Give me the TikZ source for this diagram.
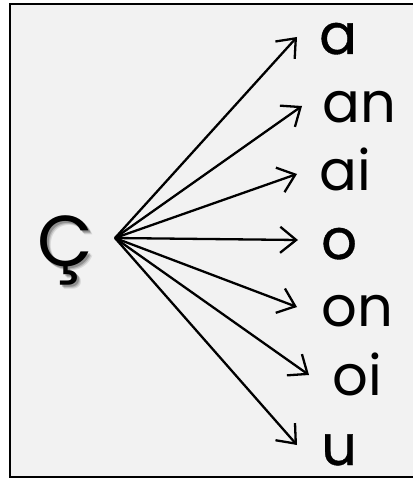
\documentclass[tikz,border=0pt]{standalone}
\usepackage{fontspec}
\setmainfont{Poppins}
\newfontfamily\semib{Poppins}[FakeBold=0.7]
\usetikzlibrary{arrows.meta}
\definecolor{bgfill}{HTML}{F2F2F2}
\tikzset{
  lbl/.style={anchor=base west, inner sep=0pt, font=\fontsize{56}{60}\selectfont},
  blbl/.style={lbl, font=\fontsize{56}{60}\selectfont\semib},
  arr/.style={line width=2.3pt, -{Straight Barb[length=16pt,width=26pt,line width=2.3pt]}},
}
\begin{document}
\begin{tikzpicture}[x=1pt,y=-1pt]
\useasboundingbox (0,0) rectangle (412,481);
\draw[line width=2.2pt, fill=bgfill] (10,4) rectangle (420,477);
% shadow of C cedilla
\foreach \d/\o in {4/0.10,3/0.15,2/0.22}{
  \node[lbl, text=black, opacity=\o, font=\fontsize{72}{76}\selectfont] at (37+\d,266+\d) {Ç};
}
\node[lbl, font=\fontsize{72}{76}\selectfont] (c) at (37,266) {Ç};
\coordinate (hub) at (115,238);
\node[blbl] (a)  at (319,54)  {a};
\node[lbl]  (an) at (322,123) {an};
\node[lbl]  (ai) at (319,190) {ai};
\node[blbl] (o)  at (321,259) {o};
\node[lbl]  (on) at (321,326) {on};
\node[lbl]  (oi) at (332,395) {oi};
\node[blbl] (u)  at (321,465) {u};
\coordinate (ea)  at (297,37);
\coordinate (ean) at (302,106);
\coordinate (eai) at (297,174);
\coordinate (eo)  at (298,240);
\coordinate (eon) at (297,307);
\coordinate (eoi) at (309,375);
\coordinate (eu)  at (297,445);
\foreach \e in {ea,ean,eai,eo,eon,eoi,eu}{
  \draw[arr] (hub) -- (\e);
}
\end{tikzpicture}
\end{document}
